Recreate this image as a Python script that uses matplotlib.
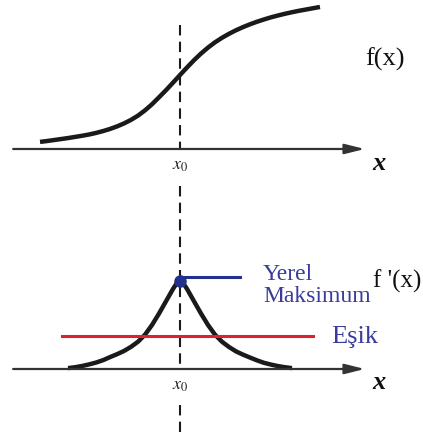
import matplotlib
matplotlib.use('Agg')
import matplotlib.pyplot as plt

plt.rcParams['mathtext.fontset'] = 'stix'

# f(x): sigmoid egrisi (x0 = 0 civarinda donum noktasi)
x_f = [-5, -4.75, -4.5, -4.25, -4, -3.75, -3.5, -3.25, -3, -2.75, -2.5,
       -2.25, -2, -1.75, -1.5, -1.25, -1, -0.75, -0.5, -0.25, 0,
       0.25, 0.5, 0.75, 1, 1.25, 1.5, 1.75, 2, 2.25, 2.5,
       2.75, 3, 3.25, 3.5, 3.75, 4, 4.25, 4.5, 4.75, 5]
y_f = [0.050, 0.056, 0.063, 0.070, 0.077, 0.085, 0.093, 0.102, 0.113, 0.126, 0.141,
       0.159, 0.180, 0.205, 0.235, 0.272, 0.315, 0.364, 0.414, 0.467, 0.521,
       0.574, 0.625, 0.672, 0.714, 0.751, 0.783, 0.811, 0.836, 0.858, 0.878,
       0.896, 0.912, 0.927, 0.940, 0.952, 0.963, 0.973, 0.982, 0.991, 1.0]

# f'(x): turev, x0'da yerel maksimum
x_d = [-4, -3.75, -3.5, -3.25, -3, -2.75, -2.5, -2.25, -2, -1.75, -1.5, -1.25,
       -1, -0.75, -0.5, -0.25, -0.125, 0, 0.125, 0.25, 0.5, 0.75, 1,
       1.25, 1.5, 1.75, 2, 2.25, 2.5, 2.75, 3, 3.25, 3.5, 3.75, 4]
y_d = [0.01, 0.02, 0.034, 0.052, 0.073, 0.1, 0.135, 0.168, 0.205, 0.252, 0.31, 0.39,
       0.5, 0.63, 0.77, 0.91, 0.97, 1.0, 0.97, 0.91, 0.77, 0.63, 0.5,
       0.39, 0.31, 0.25, 0.2, 0.163, 0.13, 0.098, 0.07, 0.05, 0.033, 0.02, 0.01]

x0 = 0
esik = 0.38          # esik degeri
esik_x = [-4.2, 4.75]

curve_col = '#1a1a1a'
axis_col = '#333333'
blue = '#23308c'
text_blue = '#3b3b9b'
red = '#e0202c'

fig = plt.figure(figsize=(4.23, 4.32), dpi=100)
ax1 = fig.add_axes([0, 212 / 432, 1, 220 / 432])
ax2 = fig.add_axes([0, 0, 1, 212 / 432])

ax1.set_xlim(-6.43, 8.68)
ax1.set_ylim(-0.5, 1.049)
ax2.set_xlim(-6.43, 8.68)
ax2.set_ylim(-0.716, 1.693)
for ax in (ax1, ax2):
    ax.axis('off')


def eksen(ax):
    ax.annotate('', xy=(6.6, 0), xytext=(-5.96, 0),
                arrowprops=dict(arrowstyle='-|>,head_length=1.2,head_width=0.3',
                                color=axis_col, lw=1.6, shrinkA=0, shrinkB=0))
    ax.text(6.88, -0.02, 'x', family='Liberation Serif', style='italic',
            weight='bold', fontsize=19, color='#111111', ha='left', va='top')


dash = (0, (5, 3))

# ust grafik: f(x)
eksen(ax1)
ax1.plot([x0, x0], [0.873, 0], color=curve_col, lw=1.5, linestyle=dash)
ax1.plot([x0, x0], [-0.26, -0.5], color=curve_col, lw=1.5, linestyle=dash)
ax1.plot(x_f, y_f, color=curve_col, lw=3.2, solid_capstyle='butt',
         solid_joinstyle='round')
ax1.text(x0, -0.05, r'$x_0$', fontsize=13, color='#222222', ha='center', va='top')
ax1.text(6.6, 0.63, 'f(x)', family='Liberation Serif', fontsize=19,
         color='#111111', ha='left', va='center')

# alt grafik: f'(x)
eksen(ax2)
ax2.plot([x0, x0], [1.693, 0], color=curve_col, lw=1.5, linestyle=dash)
ax2.plot([x0, x0], [-0.41, -0.716], color=curve_col, lw=1.5, linestyle=dash)
ax2.plot(x_d, y_d, color=curve_col, lw=3.2, solid_capstyle='butt',
         solid_joinstyle='round')
ax2.plot(esik_x, [esik, esik], color=red, lw=2.2)
ax2.text(5.4, 0.295, 'Eşik', family='Liberation Serif', fontsize=19,
         color=text_blue, ha='left', va='baseline')

peak = y_d[x_d.index(x0)]
ax2.plot([x0, 2.15], [peak + 0.04, peak + 0.04], color=blue, lw=2.2)
ax2.plot(x0, peak, 'o', color=blue, markersize=8)
ax2.text(2.96, 1.01, 'Yerel', family='Liberation Serif', fontsize=17,
         color=text_blue, ha='left', va='baseline')
ax2.text(2.96, 0.76, 'Maksimum', family='Liberation Serif', fontsize=17,
         color=text_blue, ha='left', va='baseline')
ax2.text(6.9, 1.0, "f '(x)", family='Liberation Serif', fontsize=18,
         color='#111111', ha='left', va='center')
ax2.text(x0, -0.08, r'$x_0$', fontsize=13, color='#222222', ha='center', va='top')

fig.savefig('out.png', dpi=100, facecolor='white')
